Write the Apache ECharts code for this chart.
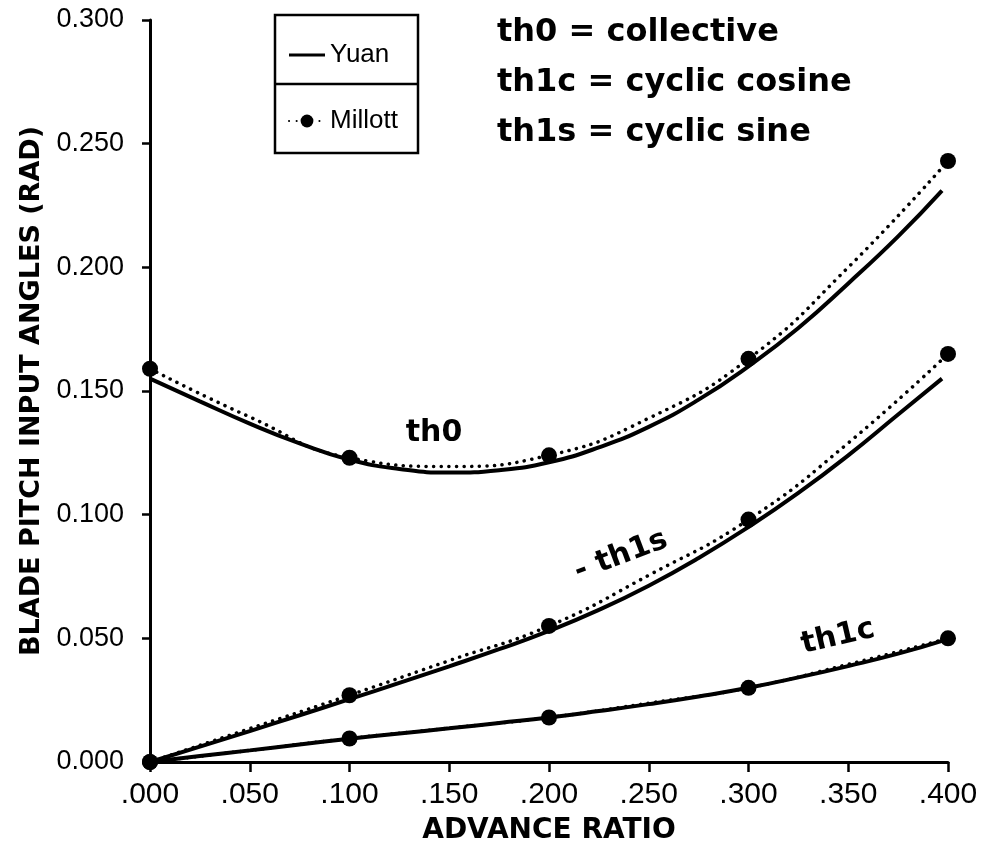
<!DOCTYPE html>
<html>
<head>
<meta charset="utf-8">
<script src="https://cdn.jsdelivr.net/npm/echarts@6/dist/echarts.min.js"></script>
<style>html,body{margin:0;padding:0;background:#fff}#chart{width:989px;height:850px}</style>
</head>
<body>
<div id="chart"></div>
<script>
// ---- data ----
const xTickLabels = ['.000', '.050', '.100', '.150', '.200', '.250', '.300', '.350', '.400'];
const yTickLabels = ['0.000', '0.050', '0.100', '0.150', '0.200', '0.250', '0.300'];

// Millott: marked points
const millottX    = [0.0, 0.1, 0.2, 0.3, 0.4];
const millottTh0  = [0.159, 0.123, 0.124, 0.163, 0.243];
const millottTh1s = [0.000, 0.027, 0.055, 0.098, 0.165];
const millottTh1c = [0.000, 0.0095, 0.018, 0.030, 0.050];
// Millott: dotted curve read between the marked points
const millottCurveX    = [0.05, 0.15, 0.25, 0.35];
const millottCurveTh0  = [0.1395, 0.1195, 0.139, 0.200];
const millottCurveTh1s = [0.0135, 0.041, 0.0755, 0.129];
const millottCurveTh1c = [0.0047, 0.0137, 0.0238, 0.0395];

// Yuan (solid lines)
const yuanX    = [0, 0.025, 0.05, 0.075, 0.1, 0.125, 0.15, 0.175, 0.2, 0.225, 0.25, 0.275, 0.3, 0.325, 0.35, 0.375, 0.397];
const yuanTh0  = [0.155, 0.1458, 0.1368, 0.1288, 0.1222, 0.1185, 0.1170, 0.1180, 0.1212, 0.1272, 0.1355, 0.1465, 0.160, 0.1755, 0.1935, 0.2125, 0.231];
const yuanTh1s = [0, 0.0062, 0.0125, 0.0189, 0.0254, 0.0320, 0.0387, 0.0456, 0.0530, 0.0615, 0.0713, 0.0825, 0.0950, 0.1088, 0.1240, 0.1405, 0.1550];
const yuanTh1c = [0, 0.0024, 0.0047, 0.0071, 0.0094, 0.0115, 0.0136, 0.0158, 0.0180, 0.0206, 0.0234, 0.0265, 0.0300, 0.0342, 0.0388, 0.0438, 0.049];

const zip = (xs, ys) => xs.map((x, i) => [x, ys[i]]);
function millottData(ys, curveYs) {
  const pts = millottX.map((x, i) => ({ value: [x, ys[i]] }))
    .concat(millottCurveX.map((x, i) => ({ value: [x, curveYs[i]], symbol: 'none' })));
  return pts.sort((a, b) => a.value[0] - b.value[0]);
}

const chart = echarts.init(document.getElementById('chart'));

const yuanStyle = { color: '#000', width: 4 };
const millottLine = { color: '#000', width: 3.5, type: [0.1, 7.5], cap: 'round' };

function yuan(data) {
  return { name: 'Yuan', type: 'line', data, smooth: 0.5, symbol: 'none',
           lineStyle: yuanStyle, itemStyle: { color: '#000' }, z: 2, silent: true };
}
function millott(data) {
  return { name: 'Millott', type: 'line', data, smooth: 0.5, symbol: 'circle', symbolSize: 16,
           lineStyle: millottLine, itemStyle: { color: '#000' }, z: 3, silent: true };
}

const bold = (size) => ({ fontSize: size, fontWeight: 'bold', fontFamily: 'DejaVu Sans', fill: '#000' });

const option = {
  animation: false,
  backgroundColor: '#fff',
  grid: { left: 150, right: 41, top: 20, bottom: 88 },
  xAxis: {
    type: 'value', min: 0, max: 0.4, interval: 0.05,
    name: 'ADVANCE RATIO', nameLocation: 'middle', nameGap: 55,
    nameTextStyle: { fontSize: 28, fontWeight: 'bold', fontFamily: 'DejaVu Sans', color: '#000' },
    axisLine: { lineStyle: { color: '#000', width: 3 } },
    axisTick: { show: true, length: 10, lineStyle: { color: '#000', width: 2.5 } },
    splitLine: { show: false },
    axisLabel: { color: '#000', fontSize: 30, fontFamily: 'Liberation Sans', margin: 18,
                 formatter: v => xTickLabels[Math.round(v / 0.05)] }
  },
  yAxis: {
    type: 'value', min: 0, max: 0.3, interval: 0.05,
    name: 'BLADE PITCH INPUT ANGLES (RAD)', nameLocation: 'middle', nameGap: 96, nameRotate: 90,
    nameTextStyle: { fontSize: 27, fontWeight: 'bold', fontFamily: 'DejaVu Sans', color: '#000' },
    axisLine: { show: true, lineStyle: { color: '#000', width: 3 } },
    axisTick: { show: true, length: 8, lineStyle: { color: '#000', width: 2.5 } },
    splitLine: { show: false },
    axisLabel: { color: '#000', fontSize: 27, fontFamily: 'Liberation Sans', margin: 26,
                 formatter: v => yTickLabels[Math.round(v / 0.05)] }
  },
  legend: {
    data: [
      { name: 'Yuan', icon: 'path://M0,0L0.01,0L0,0.01ZM0,6.5L36,6.5L36,9.5L0,9.5ZM36,16L35.99,16L36,15.99Z' },
      { name: 'Millott' }
    ],
    orient: 'vertical', left: 283, top: 37,
    itemWidth: 36, itemHeight: 16, itemGap: 40, selectedMode: false,
    textStyle: { fontSize: 26, fontFamily: 'Liberation Sans', color: '#000' }
  },
  graphic: [
    { type: 'rect', shape: { x: 275, y: 15, width: 143, height: 138 },
      style: { fill: 'none', stroke: '#000', lineWidth: 2.5 }, silent: true },
    { type: 'line', shape: { x1: 275, y1: 84, x2: 418, y2: 84 },
      style: { stroke: '#000', lineWidth: 2.5 }, silent: true },
    { type: 'text', x: 497, y: 33, silent: true,
      style: Object.assign({ text: 'th0 = collective', align: 'left', verticalAlign: 'middle' }, bold(32)) },
    { type: 'text', x: 497, y: 83, silent: true,
      style: Object.assign({ text: 'th1c = cyclic cosine', align: 'left', verticalAlign: 'middle' }, bold(32)) },
    { type: 'text', x: 497, y: 133, silent: true,
      style: Object.assign({ text: 'th1s = cyclic sine', align: 'left', verticalAlign: 'middle' }, bold(32)) },
    { type: 'text', x: 434, y: 433, silent: true,
      style: Object.assign({ text: 'th0', align: 'center', verticalAlign: 'middle' }, bold(30)) },
    { type: 'text', x: 621, y: 556, rotation: 0.36, silent: true,
      style: Object.assign({ text: '- th1s', align: 'center', verticalAlign: 'middle' }, bold(30)) },
    { type: 'text', x: 838, y: 637, rotation: 0.23, silent: true,
      style: Object.assign({ text: 'th1c', align: 'center', verticalAlign: 'middle' }, bold(30)) }
  ],
  series: [
    yuan(zip(yuanX, yuanTh0)),
    yuan(zip(yuanX, yuanTh1s)),
    yuan(zip(yuanX, yuanTh1c)),
    millott(millottData(millottTh0, millottCurveTh0)),
    millott(millottData(millottTh1s, millottCurveTh1s)),
    millott(millottData(millottTh1c, millottCurveTh1c))
  ]
};
chart.setOption(option);
</script>
</body>
</html>
